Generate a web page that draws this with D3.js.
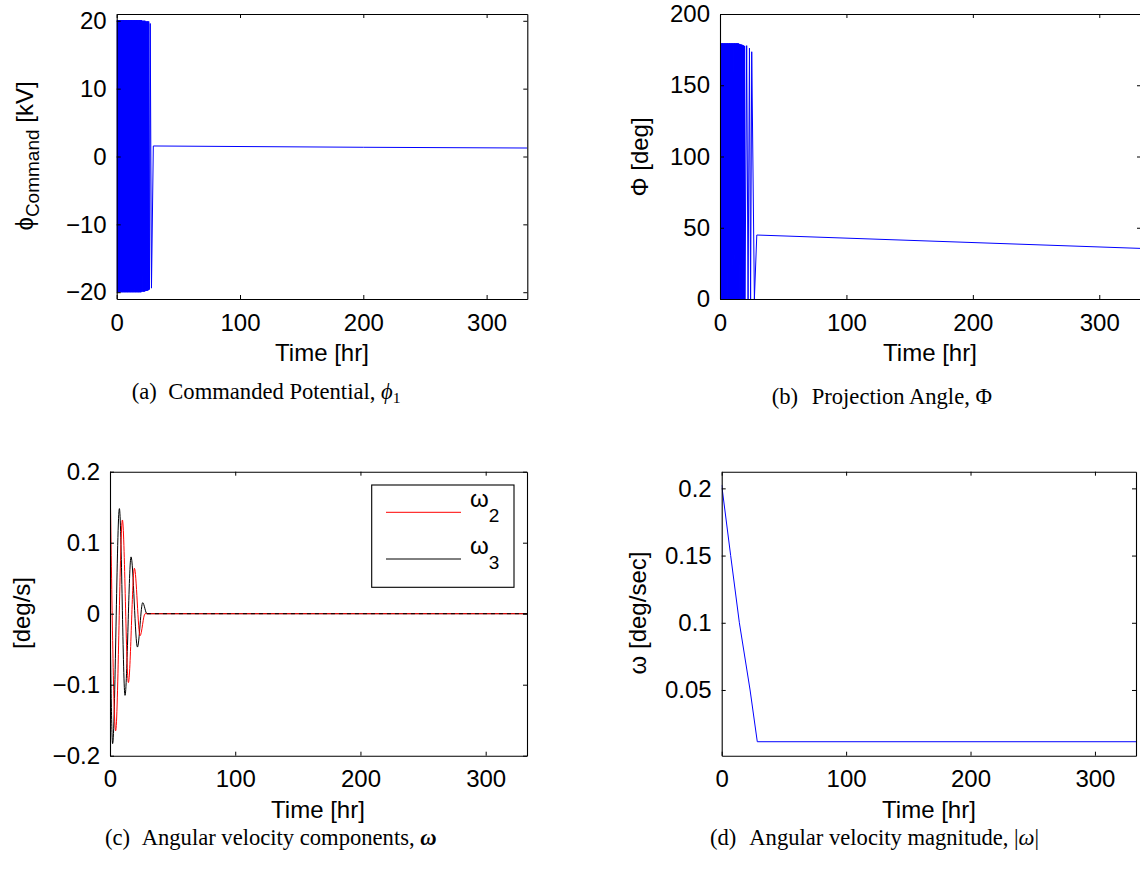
<!DOCTYPE html>
<html><head><meta charset="utf-8">
<script src="https://cdn.jsdelivr.net/npm/d3@7"></script>
<style>
body{margin:0;background:#fff;}
svg{display:block;}
.tick text{font-family:"Liberation Sans",Arial,Helvetica,sans-serif;font-size:24px;fill:#000;}
.lab{font-family:"Liberation Sans",Arial,Helvetica,sans-serif;font-size:24px;fill:#000;}
.cap{font-family:"Liberation Serif","Times New Roman",serif;font-size:22.6px;fill:#000;}
</style></head><body>
<svg id="chart" width="1140" height="871"></svg>
<script>
// ---------- data ----------
const timeTicks = [0, 100, 200, 300];

// (a) commanded potential [kV] vs time [hr]
const phiCmdTime = [0,0.25,0.5,0.75,1,1.25,1.5,1.75,2,2.25,2.5,2.75,3,3.25,3.5,3.75,4,4.25,4.5,4.75,
  5,5.25,5.5,5.75,6,6.25,6.5,6.75,7,7.25,7.5,7.75,8,8.25,8.5,8.75,9,9.25,9.5,9.75,
  10,10.25,10.5,10.75,11,11.25,11.5,11.75,12,12.25,12.5,12.75,13,13.25,13.5,13.75,14,14.25,14.5,14.75,
  15,15.25,15.5,15.75,16,16.25,16.5,16.75,17,17.25,17.5,17.75,18,18.25,18.5,18.75,19,19.25,19.5,19.75,
  20,20.25,20.5,20.75,21,21.25,21.5,21.75,22,22.25,22.5,22.75,23,23.25,23.5,23.75,24,24.25,24.5,24.75,
  25,25.25,25.5,25.75,26,26.6,27.2,28.2,29.7,100,200,333];
const phiCmdKV = [
  20.1,-20.0,20.1,-20.0,20.1,-20.0,20.1,-20.0,20.1,-20.0,20.1,-20.0,20.1,-20.0,20.1,-20.0,20.1,-20.0,20.1,-20.0,
  20.1,-20.0,20.1,-20.0,20.1,-20.0,20.1,-20.0,20.1,-20.0,20.1,-20.0,20.1,-20.0,20.1,-20.0,20.1,-20.0,20.1,-20.0,
  20.1,-20.0,20.1,-20.0,20.1,-20.0,20.1,-20.0,20.1,-20.0,20.1,-20.0,20.1,-20.0,20.1,-20.0,20.1,-20.0,20.1,-20.0,
  20.1,-20.0,20.1,-20.0,20.1,-20.0,20.1,-20.0,20.1,-20.0,20.1,-20.0,20.1,-20.0,20.1,-20.0,20.1,-20.0,20.1,-20.0,
  20.1,-19.9,20.0,-19.9,20.0,-19.9,20.0,-19.9,20.0,-19.9,20.0,-19.9,20.0,-19.8,19.9,-19.8,19.9,-19.8,19.9,-19.8,
  19.9,-19.7,19.9,-19.7,19.9,-19.6,19.6,-19.4,1.55,1.47,1.36,1.25];
const phiCmdTicks = [-20, -10, 0, 10, 20];

// (b) projection angle [deg]
const projTime = [0,0.25,0.5,0.75,1,1.25,1.5,1.75,2,2.25,2.5,2.75,3,3.25,3.5,3.75,4,4.25,4.5,4.75,
  5,5.25,5.5,5.75,6,6.25,6.5,6.75,7,7.25,7.5,7.75,8,8.25,8.5,8.75,9,9.25,9.5,9.75,
  10,10.25,10.5,10.75,11,11.25,11.5,11.75,12,12.25,12.5,12.75,13,13.25,13.5,13.75,14,14.25,14.5,14.75,
  15,15.25,15.5,15.75,16,16.25,16.5,16.75,17,17.25,17.5,17.75,18,18.25,18.5,18.75,19,19.25,19.5,19.75,
  21.1,22.2,23.3,24.2,25.1,27.2,29.1,333];
const projDeg = [
  179.4,0,179.4,0,179.4,0,179.4,0,179.4,0,179.4,0,179.4,0,179.4,0,179.4,0,179.4,0,
  179.4,0,179.4,0,179.4,0,179.4,0,179.4,0,179.4,0,179.4,0,179.4,0,179.4,0,179.4,0,
  179.4,0,179.4,0,179.4,0,179.4,0,179.4,0,179.4,0,179.4,0,179.4,0,179.4,0,179.4,0,
  179.0,0,179.0,0,178.7,0,178.7,0,178.4,0,178.4,0,178.0,0,178.0,0,177.6,0,177.6,0,
  177.8,0,176.0,0,173.5,0,44.9,35.5];
const projTicks = [0, 50, 100, 150, 200];

// (c) angular velocity components [deg/s]
const omega2Time = [0, 4.5, 9.9, 14.7, 19.5, 24.0, 28.0, 333];
const omega2Val  = [0.2, -0.165, 0.132, -0.097, 0.064, -0.031, 0, 0];
const omega3Time = [0, 2.1, 7.5, 12.0, 16.8, 21.9, 26.1, 29.5, 333];
const omega3Val  = [0, -0.183, 0.148, -0.115, 0.080, -0.047, 0.0155, 0, 0];
const omegaTicks = [-0.2, -0.1, 0, 0.1, 0.2];

// (d) angular velocity magnitude [deg/sec]
const omegaMagTime = [0, 7.2, 14.2, 22.8, 28.6, 333];
const omegaMagVal  = [0.2025, 0.15, 0.1, 0.05, 0.0115, 0.0115];
const omegaMagTicks = [0.05, 0.1, 0.15, 0.2];

// ---------- drawing ----------
const svg = d3.select('#chart');
const numFmt = v => { const s = String(+Math.abs(v).toFixed(3)); return (v < 0 ? '\u2212' : '') + s; };

function zip(t, v){ return t.map((d,i)=>({t:d, v:v[i]})); }

function panel(p){
  const x = d3.scaleLinear().domain([0,333]).range([p.left, p.right]);
  const y = d3.scaleLinear().domain(p.yDomain).range([p.bottom, p.top]);
  const g = svg.append('g');
  const cid = 'clip' + p.id;
  svg.append('clipPath').attr('id', cid).append('rect')
    .attr('x', p.left).attr('y', p.top).attr('width', p.right - p.left).attr('height', p.bottom - p.top);
  const plot = g.append('g').attr('clip-path', `url(#${cid})`);
  p.series.forEach(s => {
    const line = d3.line().x(d => x(d.t)).y(d => y(d.v));
    if (s.curve) line.curve(s.curve);
    plot.append('path').datum(s.data).attr('d', line)
      .attr('fill','none').attr('stroke', s.color).attr('stroke-width', 1)
      .attr('stroke-dasharray', s.dash || null);
  });
  const ax = [
    [d3.axisBottom(x).tickValues(timeTicks).tickFormat(d3.format('d')).tickPadding(14.5), `translate(0,${p.bottom})`],
    [d3.axisTop(x).tickValues(timeTicks).tickFormat(''), `translate(0,${p.top})`],
    [d3.axisLeft(y).tickValues(p.yTicks).tickFormat(numFmt).tickPadding(10), `translate(${p.left},0)`],
    [d3.axisRight(y).tickValues(p.yTicks).tickFormat(''), `translate(${p.right},0)`]
  ];
  ax.forEach(([a, tr]) => {
    const ag = g.append('g').attr('transform', tr).call(a.tickSizeInner(-4).tickSizeOuter(0));
    ag.select('.domain').attr('stroke-width', 1.1);
    ag.selectAll('.tick line').attr('stroke-width', 1);
  });
  g.append('text').attr('class','lab').attr('text-anchor','middle')
    .attr('x', p.xLabelX).attr('y', p.bottom + 62).text('Time [hr]');
  return {x, y, g};
}

// (a)
panel({id:'a', left:116.7, right:527.3, top:14, bottom:299, yDomain:[-21,21], yTicks:phiCmdTicks, xLabelX:322,
  series:[{data:zip(phiCmdTime, phiCmdKV), color:'#0000ff'}]});
// (b)
panel({id:'b', left:720, right:1141, top:14, bottom:299, yDomain:[0,200], yTicks:projTicks, xLabelX:930,
  series:[{data:zip(projTime, projDeg), color:'#0000ff'}]});
// (c)
const om3 = zip(omega3Time, omega3Val);
panel({id:'c', left:110, right:527, top:471.7, bottom:755.7, yDomain:[-0.2,0.2], yTicks:omegaTicks, xLabelX:318,
  series:[
    {data:om3, color:'#000000', curve:d3.curveMonotoneX},
    {data:zip(omega2Time, omega2Val), color:'#ff0000', curve:d3.curveMonotoneX},
    {data:om3.filter(d => d.t >= 29.5), color:'#000000', dash:'4,4'}
  ]});
// (d)
panel({id:'d', left:721.7, right:1136, top:471.7, bottom:755.7, yDomain:[0.0011,0.2124], yTicks:omegaMagTicks, xLabelX:929,
  series:[{data:zip(omegaMagTime, omegaMagVal), color:'#0000ff'}]});

// legend (c)
const lg = svg.append('g');
lg.append('rect').attr('x',371.7).attr('y',485).attr('width',142.3).attr('height',102.3)
  .attr('fill','#fff').attr('stroke','#000').attr('stroke-width',1.1);
[['#ff0000','2',512.3],['#000000','3',559]].forEach(([c, sub, yy]) => {
  lg.append('line').attr('x1',386).attr('x2',461).attr('y1',yy).attr('y2',yy).attr('stroke',c).attr('stroke-width',1);
  const t = lg.append('text').attr('class','lab').attr('x',470).attr('y',yy - 5);
  t.append('tspan').text('\u03c9');
  t.append('tspan').attr('dy',15).attr('font-size','19px').text(sub);
});

// y labels
function ylab(xp, yp, parts){
  const t = svg.append('text').attr('class','lab').attr('text-anchor','middle')
    .attr('transform', `translate(${xp},${yp}) rotate(-90)`);
  parts.forEach(([s, dy, fs]) => {
    const ts = t.append('tspan').text(s);
    if (dy) ts.attr('dy', dy);
    if (fs) ts.attr('font-size', fs);
  });
}
ylab(33, 156, [['\u03d5'], ['Command', 6, '19px'], [' [kV]', -6, '24px']]);
ylab(648, 157, [['\u03a6 [deg]']]);
ylab(30, 613, [['[deg/s]']]);
ylab(646, 613, [['\u03c9 [deg/sec]']]);

// captions
function cap(x1, x2, y, label, parts){
  svg.append('text').attr('class','cap').attr('x',x1).attr('y',y).text(label);
  const t = svg.append('text').attr('class','cap').attr('x',x2).attr('y',y);
  parts.forEach(([s, style]) => {
    const ts = t.append('tspan').text(s);
    if (style === 'i') ts.attr('font-style','italic');
    if (style === 'bi') ts.attr('font-style','italic').attr('font-weight','bold');
    if (style === 'sub') ts.attr('font-size','15.5px').attr('dy',4);
  });
}
cap(131.7, 168.3, 399, '(a)', [['Commanded Potential, '], ['\u03d5','i'], ['1','sub']]);
cap(771.7, 811.7, 404, '(b)', [['Projection Angle, \u03a6']]);
cap(105, 141.7, 845, '(c)', [['Angular velocity components, '], ['\u03c9','bi']]);
cap(710, 749.3, 845, '(d)', [['Angular velocity magnitude, |'], ['\u03c9','i'], ['|']]);
</script>
</body></html>
